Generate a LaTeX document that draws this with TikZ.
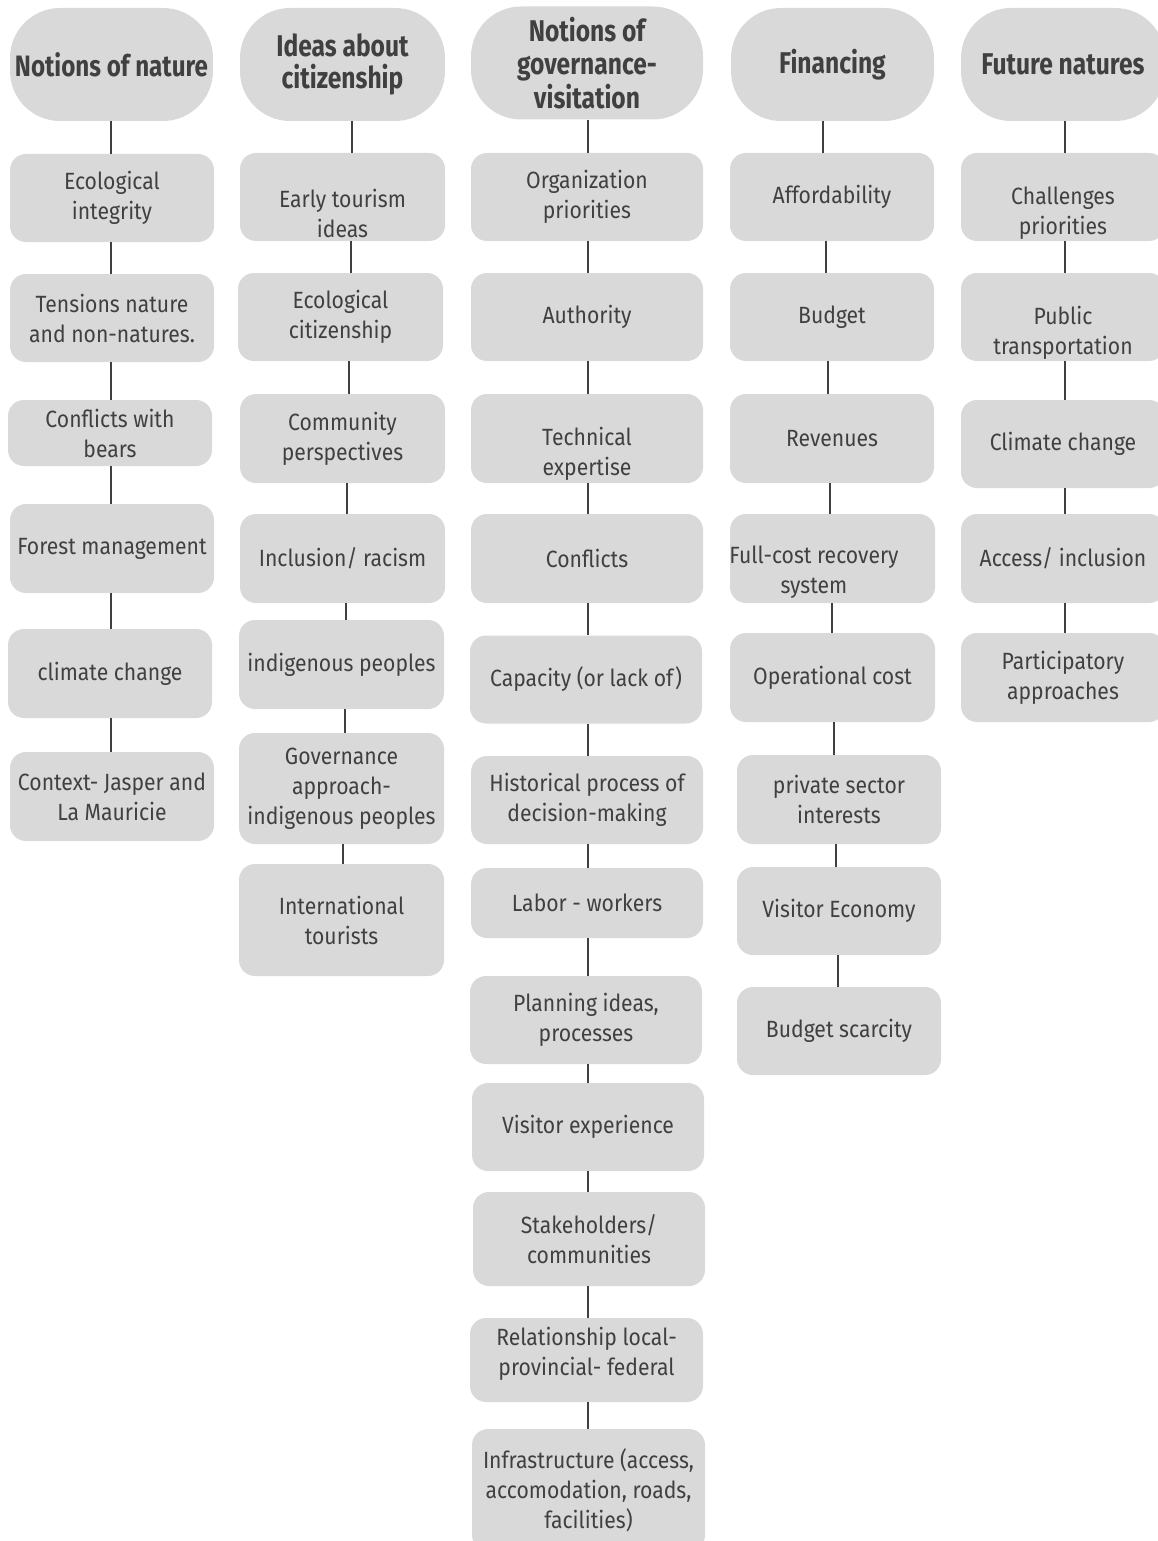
\documentclass[tikz,border=0pt]{standalone}
\usepackage{fontspec}
\setmainfont{Fira Sans}[FakeStretch=0.9]
\newfontfamily\headfont{Fira Sans}[FakeStretch=0.82]
\definecolor{boxgray}{HTML}{D9D9D9}
\definecolor{txtgray}{HTML}{404040}
\definecolor{lngray}{HTML}{404040}
\newcommand\lnk[4]{\draw[conn] ([xshift=#2pt]#1.south) -- ([xshift=#4pt]#3.north);}
\begin{document}
\begin{tikzpicture}[x=1pt,y=-1pt,
  box/.style={fill=boxgray, rounded corners=16pt, text=txtgray, align=center,
    inner sep=0pt, minimum width=204pt, minimum height=88pt,
    font=\fontsize{23.5}{30}\selectfont},
  txt/.style={text=txtgray, align=center, inner sep=0pt,
    font=\fontsize{23.5}{30}\selectfont},
  head/.style={fill=boxgray, rounded corners=50pt, text=txtgray, align=center,
    inner sep=0pt, minimum width=204pt, minimum height=113pt,
    font=\headfont\bfseries\fontsize{30}{32.5}\selectfont},
  conn/.style={draw=lngray, line width=1.3pt}]
\useasboundingbox (0,0) rectangle (1158,1541);
\clip (0,0) rectangle (1158,1541);

% Column 1
\node[head, minimum width=203pt, font=\headfont\bfseries\fontsize{29.5}{30}\selectfont] (h1) at (111.5,64.5) {Notions of nature};
\node[box] (a1) at (112,198) {Ecological\\integrity};
\node[box] (a2) at (112,318) {Tensions nature\\and non-natures.};
\node[box, minimum height=66pt] (a3) at (110,433) {Conflicts with\\bears};
\node[box, minimum height=89pt] (a4) at (112,548.5) {Forest management};
\node[box, minimum height=89pt] (a5) at (110,673.5) {climate change};
\node[box, minimum height=89pt] (a6) at (112,796.5) {Context- Jasper and\\La Mauricie};
\lnk{h1}{-0.5}{a1}{-1}
\lnk{a1}{-1}{a2}{-1}
\lnk{a2}{-1}{a3}{1}
\lnk{a3}{1}{a4}{-1}
\lnk{a4}{-1}{a5}{1}
\lnk{a5}{1}{a6}{-1}

% Column 2
\node[head, minimum width=205pt] (h2) at (342.5,64.5) {Ideas about\\citizenship};
\node[box, minimum width=205pt] (b1) at (342.5,197) {};
\node[txt] (b1t) at (342.5,213) {Early tourism\\ideas};
\node[box, minimum width=205pt] (b2) at (340.5,317) {Ecological\\citizenship};
\node[box, minimum width=205pt, minimum height=89pt] (b3) at (342.5,438.5) {Community\\perspectives};
\node[box, minimum width=205pt, minimum height=89pt] (b4) at (342.5,558.5) {Inclusion/ racism};
\node[box, minimum width=205pt, minimum height=89pt] (b5) at (341.5,664.5) {indigenous peoples};
\node[box, minimum width=205pt, minimum height=111pt] (b6) at (341.5,788.5) {Governance\\approach-\\indigenous peoples};
\node[box, minimum width=205pt, minimum height=112pt] (b7) at (341.5,920) {International\\tourists};
\lnk{h2}{9.5}{b1}{9.5}
\lnk{b1}{8.5}{b2}{10.5}
\lnk{b2}{8.5}{b3}{6.5}
\lnk{b3}{4.5}{b4}{4.5}
\lnk{b4}{3.5}{b5}{4.5}
\lnk{b5}{3.5}{b6}{3.5}
\lnk{b6}{1.5}{b7}{1.5}

% Column 3
\node[head, minimum width=232pt, font=\headfont\bfseries\fontsize{30}{33.5}\selectfont] (h3) at (587,63) {Notions of\\governance-\\visitation};
\node[box, minimum width=232pt] (c1) at (587,197) {Organization\\priorities};
\node[box, minimum width=232pt] (c2) at (587,317) {Authority};
\node[box, minimum width=232pt, minimum height=89pt] (c3) at (587,438.5) {};
\node[txt] (c3t) at (587,454) {Technical\\expertise};
\node[box, minimum width=232pt, minimum height=89pt] (c4) at (587,558.5) {Conflicts};
\node[box, minimum width=232pt] (c5) at (586,679.5) {Capacity (or lack of)};
\node[box, minimum width=232pt] (c6) at (587,800) {Historical process of\\decision-making};
\node[box, minimum width=232pt, minimum height=70pt] (c7) at (587,903) {Labor - workers};
\node[box, minimum width=232pt] (c8) at (586,1020) {Planning ideas,\\processes};
\node[box, minimum width=232pt] (c9) at (588,1127) {Visitor experience};
\node[box, minimum width=232pt, minimum height=94pt] (c10) at (589,1239) {Stakeholders/\\communities};
\node[box, minimum width=233pt, minimum height=84pt] (c11) at (586.5,1360) {};
\node[txt] (c11t) at (586.5,1354) {Relationship local-\\provincial- federal};
\node[box, minimum width=233pt, minimum height=122pt] (c12) at (588.5,1490) {Infrastructure (access,\\accomodation, roads,\\facilities)};
\lnk{h3}{1}{c1}{1}
\lnk{c1}{1}{c2}{1}
\lnk{c2}{1}{c3}{1}
\lnk{c3}{1}{c4}{1}
\lnk{c4}{1}{c5}{2}
\lnk{c5}{2}{c6}{1}
\lnk{c6}{1}{c7}{1}
\lnk{c7}{1}{c8}{2}
\lnk{c8}{2}{c9}{0}
\lnk{c9}{0}{c10}{-1}
\lnk{c10}{-1}{c11}{1.5}
\lnk{c11}{1.5}{c12}{-0.5}

% Column 4
\node[head, minimum width=203pt] (h4) at (832.5,64.5) {Financing};
\node[box] (d1) at (832,197) {Affordability};
\node[box] (d2) at (832,317) {Budget};
\node[box, minimum height=89pt] (d3) at (832,438.5) {Revenues};
\node[box, minimum width=205pt, minimum height=89pt] (d4) at (832.5,558.5) {};
\node[txt] (d4t) at (814,572) {Full-cost recovery\\system};
\node[box, minimum width=205pt, minimum height=89pt] (d5) at (832.5,677.5) {Operational cost};
\node[box, minimum height=89pt] (d6) at (839,799.5) {private sector\\interests};
\node[box] (d7) at (839,911) {Visitor Economy};
\node[box] (d8) at (839,1031) {Budget scarcity};
\lnk{h4}{-9.5}{d1}{-9}
\lnk{d1}{-6}{d2}{-6}
\lnk{d2}{-4}{d3}{-4}
\lnk{d3}{-2}{d4}{-2.5}
\lnk{d4}{-0.5}{d5}{-0.5}
\lnk{d5}{1.5}{d6}{-5}
\lnk{d6}{-3}{d7}{-3}
\lnk{d7}{-1}{d8}{-1}

% Column 5
\node[head] (h5) at (1063,64.5) {Future natures};
\node[box] (e1) at (1063,197) {};
\node[txt] (e1t) at (1063,213) {Challenges\\priorities};
\node[box] (e2) at (1063,317) {};
\node[txt] (e2t) at (1063,333) {Public\\transportation};
\node[box] (e3) at (1063,444) {Climate change};
\node[box, minimum height=89pt] (e4) at (1063,558.5) {Access/ inclusion};
\node[box, minimum height=89pt] (e5) at (1063,677.5) {Participatory\\approaches};
\lnk{h5}{2}{e1}{2}
\lnk{e1}{2}{e2}{2}
\lnk{e2}{2}{e3}{2}
\lnk{e3}{2}{e4}{2}
\lnk{e4}{2}{e5}{2}
\end{tikzpicture}
\end{document}
